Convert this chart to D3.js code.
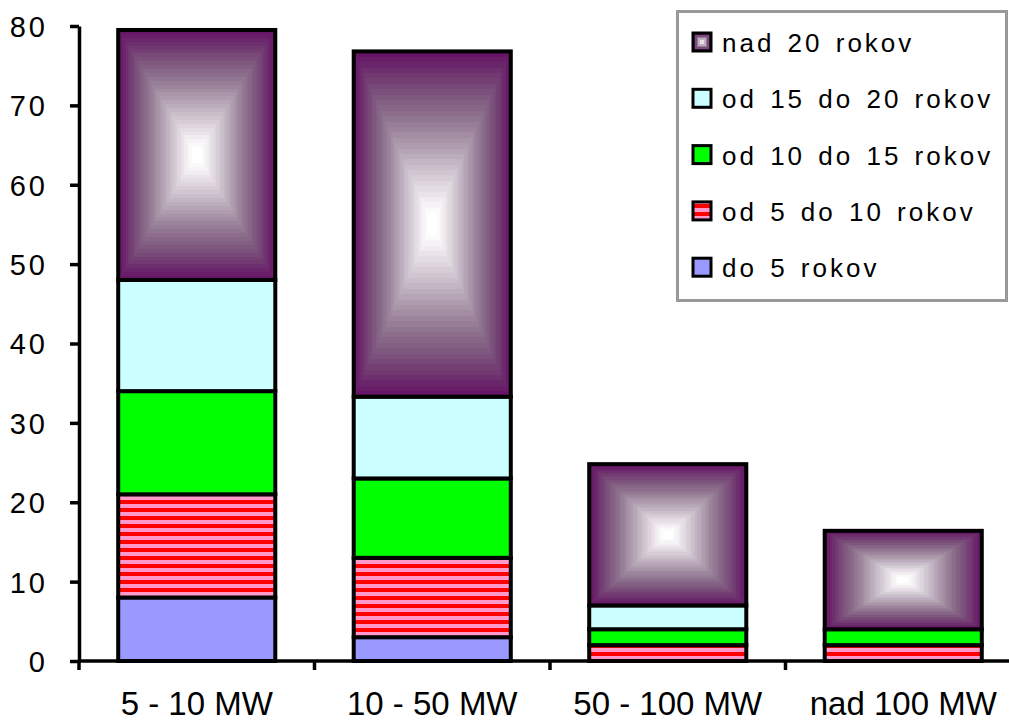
<!DOCTYPE html>
<html>
<head>
<meta charset="utf-8">
<script src="https://cdn.jsdelivr.net/npm/d3@7"></script>
<style>
  body { margin: 0; background: #fff; }
  text { font-family: "Liberation Sans", Arial, sans-serif; fill: #000; }
</style>
</head>
<body>
<div id="chart"></div>
<script>
// Vek zariadení podľa výkonu

// Data
var categories = ["5 - 10 MW", "10 - 50 MW", "50 - 100 MW", "nad 100 MW"];
var seriesNames = ["do 5 rokov", "od 5 do 10 rokov", "od 10 do 15 rokov", "od 15 do 20 rokov", "nad 20 rokov"];
var do5 = [8, 3, 0, 0];
var od5do10 = [13, 10, 2, 2];
var od10do15 = [13, 10, 2, 2];
var od15do20 = [14, 10.3, 3, 0];
var nad20 = [31.5, 43.5, 17.8, 12.4];
var yTicks = [0, 10, 20, 30, 40, 50, 60, 70, 80];

var svgWidth = 1009;
var svgHeight = 724;

var svg = d3.select("#chart")
  .append("svg")
  .attr("width", svgWidth)
  .attr("height", svgHeight);

// stripes for "od 5 do 10 rokov"
var defs = svg.append("defs");
var pat = defs.append("pattern")
  .attr("id", "stripes")
  .attr("patternUnits", "userSpaceOnUse")
  .attr("width", 8)
  .attr("height", 8);
pat.append("rect").attr("width", 8).attr("height", 8).attr("fill", "#ff99cc");
pat.append("rect").attr("y", 4).attr("width", 8).attr("height", 4).attr("fill", "#ff0000");

var fills = ["#9999ff", "url(#stripes)", "#00ff00", "#ccffff", null];

// Build table for the stack
var table = categories.map(function(c, i) {
  var row = { cat: c };
  row[seriesNames[0]] = do5[i];
  row[seriesNames[1]] = od5do10[i];
  row[seriesNames[2]] = od10do15[i];
  row[seriesNames[3]] = od15do20[i];
  row[seriesNames[4]] = nad20[i];
  return row;
});
var stacked = d3.stack().keys(seriesNames)(table);

// Scales
var x = d3.scaleBand()
  .domain(categories)
  .range([79, 1021])
  .paddingInner(0.333)
  .paddingOuter(0.1665);

var y = d3.scaleLinear()
  .domain([0, 80])
  .range([661, 26]);

// purple -> white rectangular gradient, drawn as nested rings
var purple = d3.interpolateRgbBasis(["#661466", "#764a76", "#8e748e", "#b3a3b3", "#ddd4dd", "#ffffff"]);
function boxGradient(g, x0, y0, w, h, steps) {
  g.attr("shape-rendering", "crispEdges");
  for (var s = 0; s < steps; s++) {
    var t = s / steps;
    g.append("rect")
      .attr("x", x0 + t * w / 2)
      .attr("y", y0 + t * h / 2)
      .attr("width", Math.max(0, w * (1 - t)))
      .attr("height", Math.max(0, h * (1 - t)))
      .attr("fill", purple(Math.min(1, t * 1.08)));
  }
}

var barGroup = svg.append("g");

stacked.forEach(function(layer, li) {
  layer.forEach(function(d, i) {
    var v = d[1] - d[0];
    if (v <= 0) return;
    var bx = x(categories[i]);
    var by = y(d[1]);
    var bh = y(d[0]) - y(d[1]);
    var bw = x.bandwidth();
    if (fills[li]) {
      barGroup.append("rect")
        .attr("x", bx).attr("y", by)
        .attr("width", bw).attr("height", bh)
        .attr("fill", fills[li]);
    } else {
      boxGradient(barGroup.append("g"), bx, by, bw, bh, 32);
    }
    barGroup.append("rect")
      .attr("x", bx).attr("y", by)
      .attr("width", bw).attr("height", bh)
      .attr("fill", "none")
      .attr("stroke", "#000")
      .attr("stroke-width", 4);
  });
});

// Y axis
var leftAxis = d3.axisLeft(y).tickValues(yTicks).tickSize(9).tickSizeOuter(0).tickPadding(22);
var yAxisG = svg.append("g")
  .attr("transform", "translate(79, 0)")
  .call(leftAxis);
yAxisG.select(".domain").attr("stroke", "#000").attr("stroke-width", 3.5);
yAxisG.selectAll(".tick line").attr("stroke", "#000").attr("stroke-width", 3.5);
yAxisG.selectAll(".tick text")
  .style("font-family", "'Liberation Sans', Arial, sans-serif")
  .style("font-size", "29px")
  .attr("letter-spacing", 3)
  .attr("dy", "0.36em");
yAxisG.append("line")
  .attr("x1", 0).attr("x2", 0)
  .attr("y1", y(0)).attr("y2", y(0) + 9)
  .attr("stroke", "#000").attr("stroke-width", 3.5);

// X axis
var xAxisG = svg.append("g");
xAxisG.append("line")
  .attr("x1", 79).attr("x2", svgWidth)
  .attr("y1", y(0)).attr("y2", y(0))
  .attr("stroke", "#000").attr("stroke-width", 3.5);
// ticks between the categories
xAxisG.selectAll(".xtick")
  .data(categories.slice(1))
  .enter()
  .append("line")
  .attr("x1", function(d) { return x(d) - x.step() * x.paddingInner() / 2; })
  .attr("x2", function(d) { return x(d) - x.step() * x.paddingInner() / 2; })
  .attr("y1", y(0))
  .attr("y2", y(0) + 9)
  .attr("stroke", "#000")
  .attr("stroke-width", 3.5);
xAxisG.selectAll(".xlabel")
  .data(categories)
  .enter()
  .append("text")
  .attr("x", function(d) { return x(d) + x.bandwidth() / 2; })
  .attr("y", 715)
  .attr("text-anchor", "middle")
  .style("font-size", "33px")
  .text(function(d) { return d; });

// Legend
var legend = svg.append("g");
legend.append("rect")
  .attr("x", 677.5).attr("y", 11.5)
  .attr("width", 329).attr("height", 289)
  .attr("fill", "#fff")
  .attr("stroke", "#999")
  .attr("stroke-width", 3);

var legendOrder = seriesNames.slice().reverse();
legendOrder.forEach(function(name, i) {
  var cy = 42 + i * 56.3;
  var idx = seriesNames.indexOf(name);
  if (fills[idx]) {
    legend.append("rect")
      .attr("x", 693).attr("y", cy - 9)
      .attr("width", 18).attr("height", 18)
      .attr("fill", fills[idx]);
  } else {
    boxGradient(legend.append("g"), 693, cy - 9, 18, 18, 5);
  }
  legend.append("rect")
    .attr("x", 693).attr("y", cy - 9)
    .attr("width", 18).attr("height", 18)
    .attr("fill", "none")
    .attr("stroke", "#000")
    .attr("stroke-width", 3);
  legend.append("text")
    .attr("x", 722)
    .attr("y", cy + 10)
    .attr("letter-spacing", 3)
    .attr("word-spacing", 3)
    .style("font-size", "26px")
    .text(name);
});
</script>
</body>
</html>
